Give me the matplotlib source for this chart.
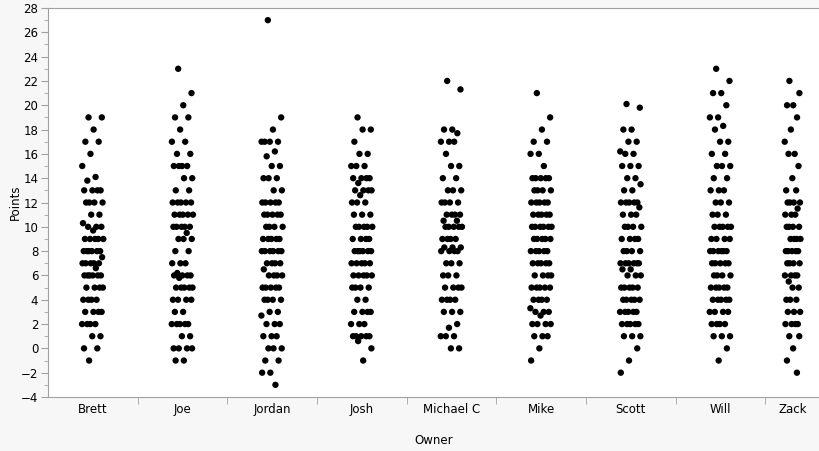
import matplotlib
matplotlib.use('Agg')
import matplotlib.pyplot as plt
import numpy as np

# owners in axis order
owners = ['Brett', 'Joe', 'Jordan', 'Josh', 'Michael C', 'Mike', 'Scott', 'Will', 'Zack']

# points per game (one entry per dot)
brett = [19, 19, 18, 17, 17, 16, 15, 14.1, 13.8, 13, 13, 13, 13, 12, 12, 12, 12, 11, 11,
         10.3, 10, 10, 10, 9.7, 9, 9, 9, 9, 9, 8, 8, 8, 8, 8, 8, 7.5, 7, 7, 7, 7, 7, 6.6,
         6, 6, 6, 6, 6, 6, 5, 5, 5, 5, 4, 4, 4, 4, 3, 3, 3, 3, 2, 2, 2, 2, 1, 1, 0, 0, -1]
joe = [23, 21, 20, 19, 19, 18, 17, 17, 16, 16, 15, 15, 15, 15, 14, 14, 13, 13,
       12, 12, 12, 12, 12, 11, 11, 11, 11, 11, 10, 10, 10, 10, 10, 9.5, 9, 9, 9, 8, 8,
       7, 7, 7, 6.2, 6, 6, 6, 6, 5.8, 5, 5, 5, 5, 5, 4, 4, 4, 4, 3, 3,
       2, 2, 2, 2, 2, 1, 1, 0, 0, 0, 0, -1, -1]
jordan = [27, 19, 18, 17, 17, 17, 17, 16.2, 15.8, 15, 15, 14, 14, 14, 13, 13,
          12, 12, 12, 12, 12, 11, 11, 11, 11, 11, 10, 10, 10, 10, 9, 9, 9, 9, 9,
          8, 8, 8, 8, 8, 8, 7, 7, 7, 7, 6.5, 6, 6, 6, 6, 5, 5, 5, 5, 5, 4, 4, 4, 4,
          3, 3, 2.7, 2, 2, 2, 1, 1, 1, 0, 0, 0, -1, -1, -2, -2, -3]
josh = [19, 18, 18, 17, 16, 16, 15, 15, 15, 14, 14, 14, 14, 13.6, 13, 13, 13, 13, 12.6,
        12, 12, 12, 11, 11, 11, 10, 10, 10, 10, 10, 9, 9, 9, 9, 8, 8, 8, 8, 8, 8,
        7, 7, 7, 7, 7, 6, 6, 6, 6, 6, 5, 5, 5, 5, 4, 4, 3, 3, 3, 3, 2, 2, 2,
        1, 1, 1, 1, 1, 0.6, 0, -1]
michael = [22, 21.3, 18, 18, 17.7, 17, 17, 17, 16, 15, 15, 14, 14, 13, 13, 13,
           12, 12, 12, 12, 11, 11, 11, 11, 10.5, 10.5, 10, 10, 10, 10, 10, 9, 9, 9, 9,
           8.3, 8.3, 8.3, 8, 8, 8, 8, 7, 7, 7, 6, 6, 6, 5, 5, 5, 5, 4, 4, 4, 4,
           3, 3, 3, 2, 1.7, 1, 1, 1, 0, 0]
mike = [21, 19, 18, 17, 17, 16, 16, 15, 14, 14, 14, 14, 14, 13, 13, 13, 13,
        12, 12, 12, 12, 12, 11, 11, 11, 11, 11, 10, 10, 10, 10, 10, 10, 9, 9, 9, 9, 9,
        8, 8, 8, 8, 8, 7, 7, 7, 7, 7, 6, 6, 6, 6, 5, 5, 5, 5, 5, 4, 4, 4, 4,
        3.3, 3, 3, 3, 2.7, 2, 2, 2, 2, 1, 1, 1, 0, -1]
scott = [20.1, 19.8, 18, 18, 17, 17, 16.2, 16, 16, 15, 15, 15, 14, 14, 13.5, 13, 13,
         12, 12, 12, 12, 12, 11.6, 11, 11, 11, 10, 10, 10, 10, 9, 9, 9, 9, 8, 8, 8, 8,
         7, 7, 7, 7, 7, 7, 6.5, 6.5, 6, 6, 6, 5, 5, 5, 5, 5, 4, 4, 4, 4, 4,
         3, 3, 3, 3, 3, 2, 2, 2, 2, 2, 1, 1, 1, 0, -1, -2]
will = [23, 22, 21, 21, 20, 19, 19, 18.3, 18, 17, 17, 16, 16, 15, 15, 15, 14, 14,
        13, 13, 13, 12, 12, 12, 11, 11, 11, 10, 10, 10, 10, 10, 9, 9, 9, 9,
        8, 8, 8, 8, 8, 8, 7, 7, 7, 7, 7, 6, 6, 6, 6, 5, 5, 5, 5, 5, 4, 4, 4, 4, 4,
        3, 3, 3, 3, 2, 2, 2, 2, 1, 1, 1, 0, -1]
zack = [22, 21, 20, 20, 19, 18, 17, 16, 16, 15, 14, 13, 13, 12, 12, 12, 12, 11.5,
        11, 11, 11, 10, 10, 10, 10, 9, 9, 9, 9, 8, 8, 8, 8, 8, 7, 7, 7, 7,
        6, 6, 6, 6, 5.5, 5, 5, 4, 4, 4, 3, 3, 3, 2, 2, 2, 2, 1, 1, 0, -1, -2]

groups = [brett, joe, jordan, josh, michael, mike, scott, will, zack]

# the last band is cut off by the window edge
x_right = 8.11
centers = [0, 1, 2, 3, 4, 5, 6, 7, (7.5 + x_right) / 2]
half_w = [0.12] * 8 + [0.09]

fig = plt.figure(figsize=(8.2, 4.51), dpi=100, facecolor='#f7f7f7')
ax = fig.add_axes([48 / 820, 1 - 397 / 451, 1 - 48 / 820, (397 - 8) / 451])
ax.set_facecolor('white')

for c, w, vals in zip(centers, half_w, groups):
    vals = np.array(vals, dtype=float)
    # deterministic jitter (golden-ratio sequence)
    idx = np.arange(len(vals))
    offs = ((idx * 0.6180339887 + 0.3) % 1.0 - 0.5) * 2 * w
    ax.scatter(c + offs, vals, s=21, color='black', edgecolors='none', zorder=3)

ax.set_xlim(-0.5, x_right)
ax.set_ylim(-4, 28)

ax.set_yticks(np.arange(-4, 29, 2))
ax.set_yticks(np.arange(-4, 29, 1), minor=True)
ax.tick_params(axis='y', which='major', length=5, color='#a0a0a0', labelsize=8.5, pad=2)
ax.tick_params(axis='y', which='minor', length=3, color='#a0a0a0')

# labels centred in bands, tick marks on the band borders
ax.set_xticks(centers)
ax.set_xticklabels(owners)
ax.tick_params(axis='x', which='major', length=0, labelsize=8.5, pad=4)
ax.set_xticks(np.arange(0.5, 7.6, 1.0), minor=True)
ax.tick_params(axis='x', which='minor', length=5, color='#a0a0a0')

for side in ['left', 'bottom', 'top']:
    ax.spines[side].set_color('#a0a0a0')
ax.spines['right'].set_visible(False)

ax.set_xlabel('Owner', fontsize=8.5, labelpad=13)
ax.set_ylabel('Points', fontsize=8.5, labelpad=-1)

plt.savefig('out.png', dpi=100, facecolor=fig.get_facecolor())
